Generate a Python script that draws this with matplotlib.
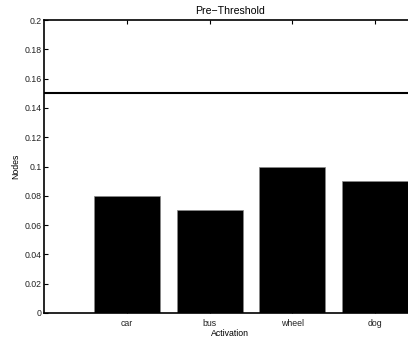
import matplotlib
matplotlib.use("Agg")
import matplotlib.pyplot as plt
import numpy as np

categories = ["car", "bus", "wheel", "dog"]
values = [0.08, 0.07, 0.10, 0.09]
threshold = 0.15
yticks = [0, 0.02, 0.04, 0.06, 0.08, 0.1, 0.12, 0.14, 0.16, 0.18, 0.2]
ytick_labels = ["0", "0.02", "0.04", "0.06", "0.08", "0.1", "0.12", "0.14", "0.16", "0.18", "0.2"]

plt.rcParams['font.family'] = ['Liberation Sans', 'DejaVu Sans']
plt.rcParams['font.size'] = 6.3

fig = plt.figure(figsize=(4.08, 3.39), dpi=100)
ax = fig.add_axes([44.3/408, 26/339, 372/408, 293/339])

x = np.arange(1, len(categories) + 1)
ax.bar(x, values, width=0.8, color='black', edgecolor='#888888', linewidth=0.5)
ax.axhline(threshold, color='black', linewidth=1.5)

ax.set_xlim(0, 4.5)
ax.set_ylim(0, 0.2)
ax.set_xticks(x)
ax.set_xticklabels(categories)
ax.set_yticks(yticks)
ax.set_yticklabels(ytick_labels)
ax.tick_params(direction='in', length=3, width=0.8, top=True, right=True, colors='black', labelcolor='#222222')
ax.tick_params(axis='x', pad=4)
ax.tick_params(axis='y', pad=2)
for s in ax.spines.values():
    s.set_linewidth(1.2)
ax.set_title("Pre\u2212Threshold", pad=4)
ax.set_xlabel("Activation", labelpad=0.7)
ax.set_ylabel("Nodes", labelpad=3)

fig.savefig("out.png", dpi=100)
